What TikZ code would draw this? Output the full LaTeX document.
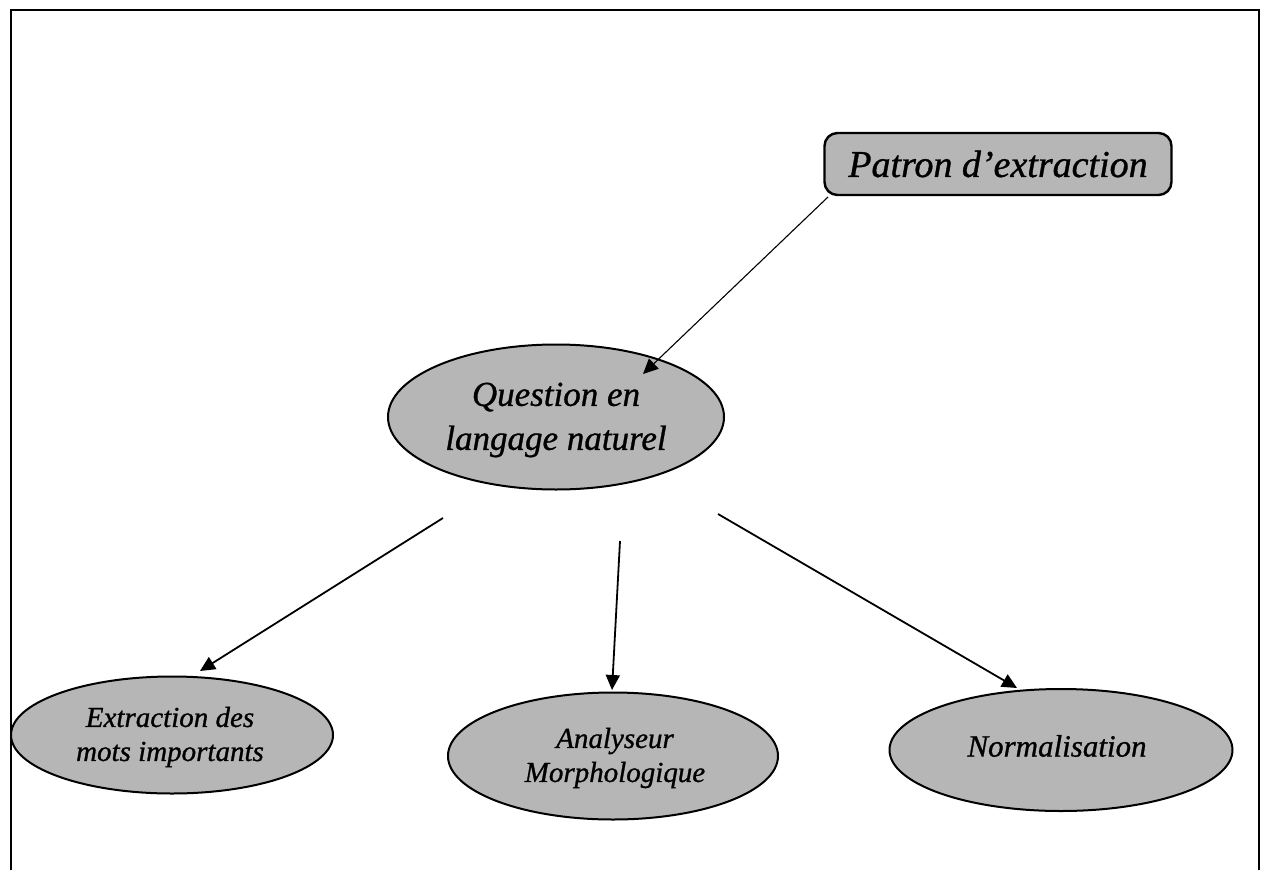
\documentclass[tikz,border=0pt]{standalone}
\usepackage{fontspec}
\setmainfont{Liberation Serif}[ItalicFeatures={FakeBold=0.9}]
\usetikzlibrary{calc,shapes.geometric,arrows.meta}
\begin{document}
\begin{tikzpicture}[x=1pt,y=-1pt,
  oval/.style={ellipse,draw=black,line width=2pt,fill={rgb,255:red,182;green,182;blue,182},inner sep=0pt},
  patronbox/.style={rectangle,rounded corners=13pt,draw=black,line width=2.4pt,fill={rgb,255:red,182;green,182;blue,182},minimum width=347pt,minimum height=62pt,inner sep=0pt},
  link/.style={line width=1.8pt,-{Triangle[length=15pt,width=14pt]}},
  thinlink/.style={line width=1.1pt,-{Triangle[length=15pt,width=14pt]}},
  lbl/.style={align=center,font=\itshape}]
\useasboundingbox (0,0) rectangle (1264,870);
% frame
\draw[line width=2.2pt] (11,880) -- (11,10) -- (1259,10) -- (1259,880);
% nodes
\node[patronbox] (p) at (998,164) {};
\node[lbl,font=\itshape\fontsize{38}{44}\selectfont] at (p.center) {Patron d'extraction};
\node[oval,minimum width=336pt,minimum height=145pt] (q) at (556,417) {};
\node[lbl,font=\itshape\fontsize{35}{44}\selectfont] at ($(q.center)+(0,3)$) {Question en\\langage naturel};
\node[oval,minimum width=322pt,minimum height=117pt] (e) at (172,735) {};
\node[lbl,font=\itshape\fontsize{29}{34}\selectfont] at ($(e.center)+(-2,2)$) {Extraction des\\mots importants};
\node[oval,minimum width=330pt,minimum height=127pt] (a) at (613,756) {};
\node[lbl,font=\itshape\fontsize{29}{34}\selectfont] at ($(a.center)+(2,2)$) {Analyseur\\Morphologique};
\node[oval,minimum width=343pt,minimum height=122pt] (n) at (1061,750) {};
\node[lbl,font=\itshape\fontsize{31}{36}\selectfont] at ($(n.center)+(-4,-4)$) {Normalisation};
% connectors
\draw[thinlink] ($(p.center)+(-170,33)$) -- ($(q.center)+(87,-43)$);
\draw[link] ($(q.center)+(-113,101)$) -- ($(e.center)+(28,-64)$);
\draw[link] ($(q.center)+(64,124)$) -- ($(a.center)+(-1,-66)$);
\draw[link] ($(q.center)+(162,97)$) -- ($(n.center)+(-44,-62)$);
\end{tikzpicture}
\end{document}
